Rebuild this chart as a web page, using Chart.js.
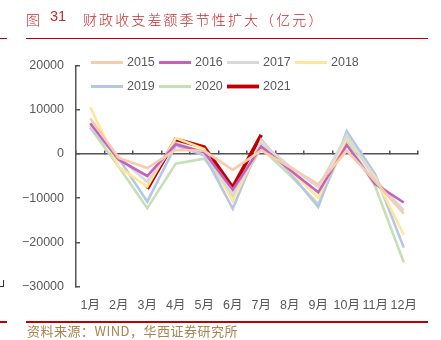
<!DOCTYPE html>
<html>
<head>
<meta charset="utf-8">
<script src="https://cdn.jsdelivr.net/npm/chart.js@4.4.0/dist/chart.umd.min.js"></script>
<style>
  html, body { margin: 0; padding: 0; background: #fff; }
  #wrap { position: relative; width: 441px; height: 340px; overflow: hidden; }
  #chart { position: absolute; left: 0; top: 0; }
  .t { position: absolute; white-space: nowrap; font-family: "Noto Sans CJK SC", sans-serif; }
  .title { top: 9px; font-size: 14px; color: #c8282b; font-weight: 300; }
  .src { left: 27px; top: 321px; font-size: 13px; color: #a88550; letter-spacing: 0.5px; }
  .rule { position: absolute; background: #c00000; }
  .mark { position: absolute; left: 0; top: 280px; width: 3px; height: 6px; border-right: 1px solid #333; border-bottom: 1px solid #333; }
</style>
</head>
<body>
<div id="wrap">
  <canvas id="chart" width="441" height="340"></canvas>
  <div class="t title" style="left:26px">图</div>
  <div class="t title" style="left:50px;font-family:'Liberation Sans',sans-serif;font-size:14.5px;top:8px">31</div>
  <div class="t title" style="left:83px;letter-spacing:2.1px">财政收支差额季节性扩大（亿元）</div>
  <div class="rule" style="left:0;top:38px;width:7px;height:1px"></div>
  <div class="rule" style="left:26px;top:38px;width:402px;height:1px"></div>
  <div class="rule" style="left:0;top:321px;width:7px;height:2px"></div>
  <div class="rule" style="left:26px;top:321px;width:402px;height:2px"></div>
  <div class="mark"></div>
  <div class="t src">资料来源：WIND，华西证券研究所</div>
</div>
<script>
// Monthly fiscal revenue minus expenditure, 100 million yuan
const months = ['1月', '2月', '3月', '4月', '5月', '6月', '7月', '8月', '9月', '10月', '11月', '12月'];
const years = ['2015', '2016', '2017', '2018', '2019', '2020', '2021'];

const y2015 = [8000, -900, -3200, 900, 700, -3600, 800, -3000, -6900, 750, -6200, -13500];
const y2016 = [6950, -1300, -5000, 2200, 400, -8100, 1700, -3600, -8700, 2000, -6800, -11000];
const y2017 = [6300, -800, -6300, 2500, 100, -9300, 2500, -2800, -7500, 4200, -5800, -12800];
const y2018 = [10600, -3000, -7400, 3600, 1100, -10700, 2800, -3700, -9900, 3800, -5300, -18300];
const y2019 = [6000, -1000, -10800, 1900, -300, -12400, 3200, -4200, -12000, 5100, -4600, -21200];
const y2020 = [5900, -2900, -12300, -2200, -1100, -9600, 1300, -4800, -11300, 3200, -7400, -24500];
const y2021 = [null, null, -7900, 3300, 1500, -7600, 4300, null, null, null, null, null];

const yTicks = [-30000, -20000, -10000, 0, 10000, 20000];

const series = [y2015, y2016, y2017, y2018, y2019, y2020, y2021];
const colors = ['#f8cbad', '#c462c0', '#d9d9d9', '#ffe699', '#b4c7e7', '#c5e0b4', '#c00000'];
const widths = [2.6, 2.6, 2.6, 2.6, 2.6, 2.6, 3.8];

const AXIS = '#555555';
const TEXT = '#595959';
const FONT = { family: '"Liberation Sans", "Noto Sans CJK SC", sans-serif', size: 12.5 };

// Two-row legend with line samples, drawn over the top of the plot
const lineLegend = {
  id: 'lineLegend',
  afterDraw(chart, args, opts) {
    const ctx = chart.ctx;
    ctx.save();
    ctx.font = FONT.size + 'px ' + FONT.family;
    ctx.textBaseline = 'middle';
    ctx.textAlign = 'left';
    chart.data.datasets.forEach((ds, i) => {
      const col = i % opts.perRow;
      const row = Math.floor(i / opts.perRow);
      const x = opts.left + col * opts.colWidth;
      const y = opts.top + row * opts.rowHeight;
      ctx.strokeStyle = ds.borderColor;
      ctx.lineWidth = Math.max(ds.borderWidth, 3);
      ctx.beginPath();
      ctx.moveTo(x, y);
      ctx.lineTo(x + opts.sample, y);
      ctx.stroke();
      ctx.fillStyle = TEXT;
      ctx.fillText(ds.label, x + opts.sample + 4, y + 0.5);
    });
    ctx.restore();
  }
};

new Chart(document.getElementById('chart'), {
  type: 'line',
  data: {
    labels: months,
    datasets: years.map((yr, i) => ({
      label: yr,
      data: series[i],
      borderColor: colors[i],
      backgroundColor: colors[i],
      borderWidth: widths[i],
      pointRadius: 0,
      pointHoverRadius: 0,
      tension: 0,
      spanGaps: false,
      xAxisID: 'x',
      yAxisID: 'y'
    }))
  },
  options: {
    responsive: false,
    animation: false,
    layout: { padding: { left: 0, top: 65.5, right: 23, bottom: 0 } },
    plugins: {
      legend: { display: false },
      tooltip: { enabled: false },
      lineLegend: { left: 91, top: 62.5, perRow: 4, colWidth: 68, rowHeight: 24, sample: 32 }
    },
    scales: {
      x: {
        type: 'category',
        position: 'bottom',
        offset: true,
        grid: { display: false, drawTicks: false },
        border: { display: false },
        ticks: { font: FONT, color: TEXT, padding: 12, maxRotation: 0, autoSkip: false },
        afterFit(scale) { scale.height = 53.5; }
      },
      x0: {
        type: 'category',
        position: { y: 0 },
        offset: true,
        grid: {
          offset: true,
          drawOnChartArea: false,
          drawTicks: true,
          tickLength: -4,
          color: AXIS,
          lineWidth: 1.5
        },
        border: { display: true, color: AXIS, width: 1.5 },
        ticks: { display: false }
      },
      y: {
        position: 'left',
        min: -30000,
        max: 20000,
        afterBuildTicks(scale) { scale.ticks = yTicks.map(v => ({ value: v })); },
        grid: {
          drawOnChartArea: false,
          drawTicks: true,
          tickLength: -4,
          color: AXIS,
          lineWidth: 1.5
        },
        border: { display: true, color: AXIS, width: 1.5 },
        ticks: {
          font: FONT,
          color: TEXT,
          padding: 16,
          callback: v => (v < 0 ? '\u2212' + Math.abs(v) : String(v))
        },
        afterFit(scale) { scale.width = 76; }
      }
    }
  },
  plugins: [lineLegend]
});
</script>
</body>
</html>
